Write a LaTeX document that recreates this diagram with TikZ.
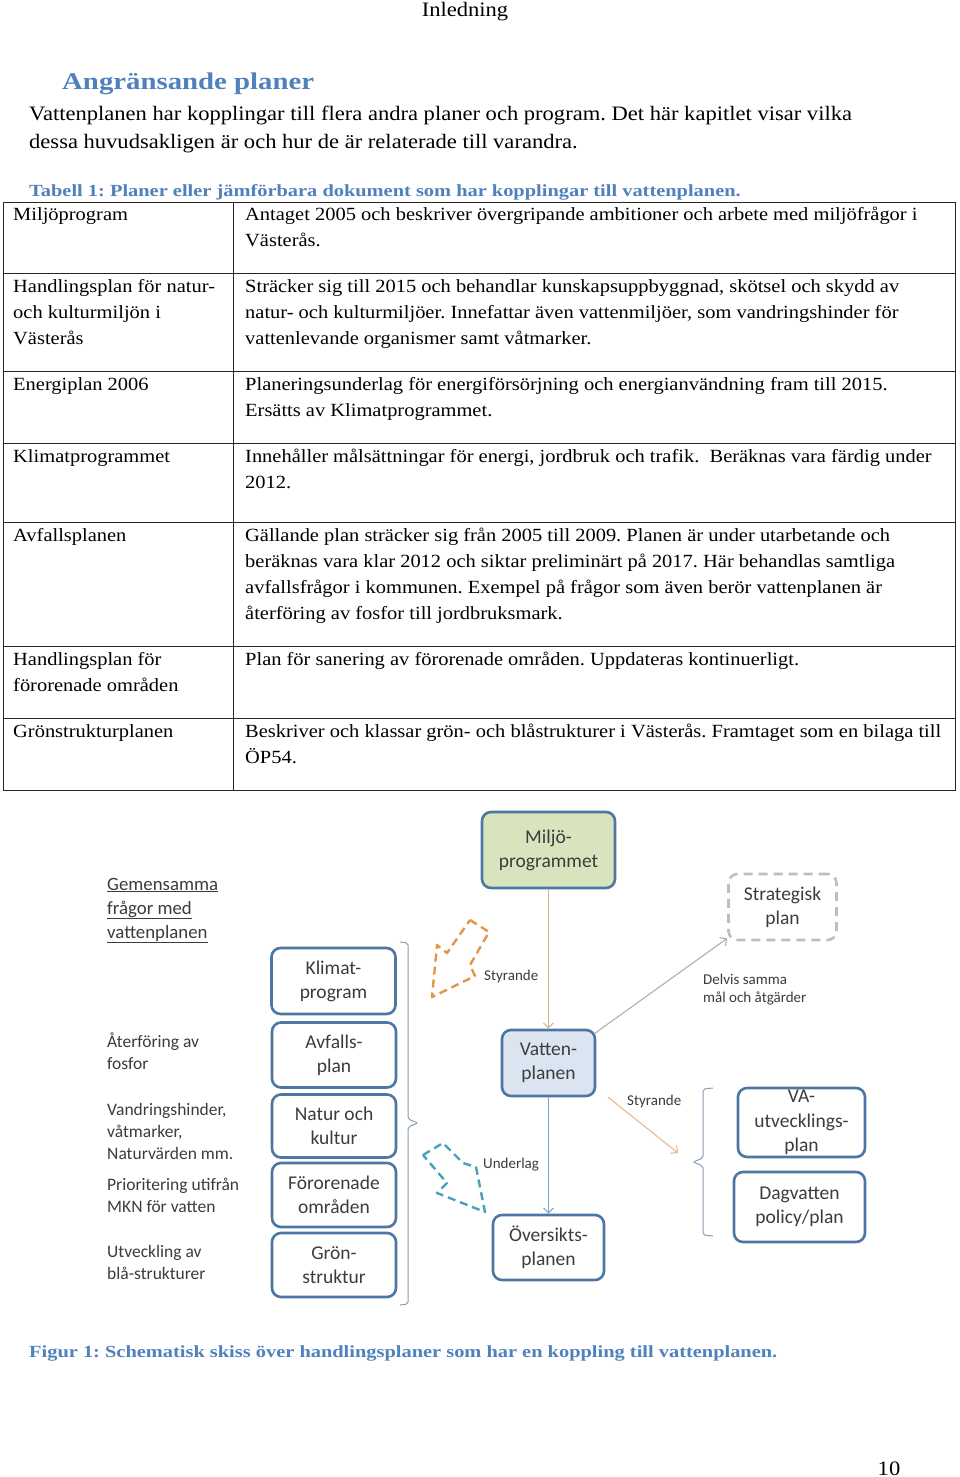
\documentclass[tikz,border=0pt]{standalone}
\usepackage{fontspec}
\setmainfont{Liberation Serif}[FakeStretch=1.1]
\newfontfamily\headf{Liberation Serif}[FakeStretch=1.2]
\newfontfamily\calf{Carlito}
\usetikzlibrary{arrows.meta}
\definecolor{headblue}{RGB}{79,129,189}
\definecolor{boxblue}{RGB}{78,118,162}
\definecolor{miljofill}{RGB}{215,228,189}
\definecolor{vattenfill}{RGB}{219,229,241}
\definecolor{dtext}{RGB}{60,60,60}
\definecolor{stratgrey}{RGB}{190,190,190}
\definecolor{arrowtan}{RGB}{212,180,140}
\definecolor{arrowtanb}{RGB}{232,185,140}
\definecolor{arrowgrey}{RGB}{175,175,175}
\definecolor{arrowblue}{RGB}{125,165,200}
\definecolor{brgrey}{RGB}{140,158,180}
\definecolor{dashorange}{RGB}{228,150,72}
\definecolor{dashteal}{RGB}{72,160,185}
\frenchspacing
\begin{document}
\begin{tikzpicture}[x=1pt,y=-1pt,
 box/.style={draw=boxblue, line width=2.6pt, rounded corners=9pt, fill=white, align=center,
   font=\calf\fontsize{19.5}{24}\selectfont, text=dtext, inner sep=0pt},
 body/.style={anchor=base west, inner sep=0pt, font=\fontsize{20.5}{26}\selectfont},
 cell/.style={anchor=base west, inner sep=0pt, font=\fontsize{18.6}{26}\selectfont},
 hd/.style={anchor=base west, inner sep=0pt, text=headblue, font=\headf\bfseries\fontsize{17}{20}\selectfont},
 lbl/.style={anchor=base west, inner sep=0pt, font=\calf\fontsize{17.5}{22}\selectfont, text=dtext},
 smalllbl/.style={anchor=base west, inner sep=0pt, font=\calf\fontsize{15}{18}\selectfont, text=dtext},
 tline/.style={line width=0.9pt, draw=black!85},
 con/.style={line width=1.1pt, -{Straight Barb[length=5pt,width=10pt]}},
 brace/.style={line width=1pt, draw=brgrey, rounded corners=2pt}
]
\useasboundingbox (0,0) rectangle (960,1477);
\fill[white] (0,0) rectangle (960,1477);

% header, heading, paragraph
\node[anchor=base, inner sep=0pt, font=\fontsize{20.5}{26}\selectfont] (hdr) at (465,17) {Inledning};
\node[hd, font=\headf\bfseries\fontsize{24}{28}\selectfont] (title) at (62,90) {Angränsande planer};
\node[body] (p1) at (29,121) {Vattenplanen har kopplingar till flera andra planer och program. Det här kapitlet visar vilka};
\node[body] (p2) at (29,149) {dessa huvudsakligen är och hur de är relaterade till varandra.};
\node[hd] (tab) at (29,196) {Tabell 1: Planer eller jämförbara dokument som har kopplingar till vattenplanen.};

% table
\draw[tline] (3,202) rectangle (955,790);
\draw[tline] (233,202) -- (233,790);
\foreach \yy in {273,371,443,522,646,718} \draw[tline] (3,\yy) -- (955,\yy);

\node[cell] (a1) at (13,220) {Miljöprogram};
\node[cell] (b1a) at (245,220) {Antaget 2005 och beskriver övergripande ambitioner och arbete med miljöfrågor i};
\node[cell] (b1b) at (245,246) {Västerås.};
\node[cell] (a2a) at (13,292) {Handlingsplan för natur-};
\node[cell] (a2b) at (13,318) {och kulturmiljön i};
\node[cell] (a2c) at (13,344) {Västerås};
\node[cell] (b2a) at (245,292) {Sträcker sig till 2015 och behandlar kunskapsuppbyggnad, skötsel och skydd av};
\node[cell] (b2b) at (245,318) {natur- och kulturmiljöer. Innefattar även vattenmiljöer, som vandringshinder för};
\node[cell] (b2c) at (245,344) {vattenlevande organismer samt våtmarker.};
\node[cell] (a3) at (13,390) {Energiplan 2006};
\node[cell] (b3a) at (245,390) {Planeringsunderlag för energiförsörjning och energianvändning fram till 2015.};
\node[cell] (b3b) at (245,416) {Ersätts av Klimatprogrammet.};
\node[cell] (a4) at (13,462) {Klimatprogrammet};
\node[cell] (b4a) at (245,462) {Innehåller målsättningar för energi, jordbruk och trafik.~ Beräknas vara färdig under};
\node[cell] (b4b) at (245,488) {2012.};
\node[cell] (a5) at (13,541) {Avfallsplanen};
\node[cell] (b5a) at (245,541) {Gällande plan sträcker sig från 2005 till 2009. Planen är under utarbetande och};
\node[cell] (b5b) at (245,567) {beräknas vara klar 2012 och siktar preliminärt på 2017. Här behandlas samtliga};
\node[cell] (b5c) at (245,593) {avfallsfrågor i kommunen. Exempel på frågor som även berör vattenplanen är};
\node[cell] (b5d) at (245,619) {återföring av fosfor till jordbruksmark.};
\node[cell] (a6a) at (13,665) {Handlingsplan för};
\node[cell] (a6b) at (13,691) {förorenade områden};
\node[cell] (b6) at (245,665) {Plan för sanering av förorenade områden. Uppdateras kontinuerligt.};
\node[cell] (a7) at (13,737) {Grönstrukturplanen};
\node[cell] (b7a) at (245,737) {Beskriver och klassar grön- och blåstrukturer i Västerås. Framtaget som en bilaga till};
\node[cell] (b7b) at (245,763) {ÖP54.};

% diagram boxes
\node[box, fill=miljofill, minimum width=133pt, minimum height=76pt] (miljo) at (548.5,850) {Miljö-\\programmet};
\node[box, draw=stratgrey, dash pattern=on 9pt off 6pt, minimum width=108pt, minimum height=66pt] (strat) at (782.5,907) {Strategisk\\plan};
\node[box, minimum width=124pt, minimum height=66pt] (klimat) at (333.5,981) {Klimat-\\program};
\node[box, minimum width=124pt, minimum height=65pt] (avfall) at (334,1055) {Avfalls-\\plan};
\node[box, minimum width=124pt, minimum height=63pt] (natur) at (334,1126) {Natur och\\kultur};
\node[box, minimum width=124pt, minimum height=64pt] (fororen) at (334,1195) {Förorenade\\områden};
\node[box, minimum width=124pt, minimum height=64pt] (gron) at (334,1265) {Grön-\\struktur};
\node[box, fill=vattenfill, minimum width=93pt, minimum height=66pt] (vatten) at (548.5,1063) {Vatten-\\planen};
\node[box, minimum width=111pt, minimum height=65pt] (oversikt) at (548.5,1247.5) {Översikts-\\planen};
\node[box, minimum width=127pt, minimum height=69pt, font=\calf\fontsize{19.5}{24.5}\selectfont] (va) at (801.5,1122.5) {VA-\\utvecklings-\\plan};
\node[box, minimum width=131pt, minimum height=70pt] (dag) at (799.5,1207) {Dagvatten\\policy/plan};

% connectors
\draw[con, draw=arrowtan] (miljo.south) -- (vatten.north);
\draw[con, draw=arrowgrey] ([xshift=-2pt,yshift=-5pt]vatten.north east) -- ([yshift=3pt]strat.south west);
\coordinate (styend) at (678,1153);
\draw[con, draw=arrowtanb] ([xshift=12pt]vatten.south east) -- (styend);
\draw[con, draw=arrowblue] (vatten.south) -- (oversikt.north);

% braces
\draw[brace] (400,942) -- (408,943) -- (408,1119) -- (418,1123) -- (408,1127) -- (408,1304) -- (400,1305);
\draw[brace] (713,1088) -- (703,1089) -- (703,1158) -- (693,1162) -- (703,1166) -- (703,1235) -- (713,1236);

% dashed block arrows
\draw[dashorange, line width=2.4pt, dash pattern=on 8pt off 5pt, line join=round]
  (470,920) -- (489,932) -- (470,965) -- (475,976) -- (432,997) -- (437,945) -- (447,953) -- cycle;
\draw[dashteal, line width=2.4pt, dash pattern=on 8pt off 5pt, line join=round]
  (423,1155) -- (443,1143) -- (463,1163) -- (476,1167) -- (485,1212) -- (437,1193) -- (447,1183) -- cycle;

% labels
\node[lbl, font=\calf\fontsize{18.8}{24}\selectfont] (g1) at (107,890) {\underline{Gemensamma}};
\node[lbl, font=\calf\fontsize{18.8}{24}\selectfont] (g2) at (107,914) {\underline{frågor med}};
\node[lbl, font=\calf\fontsize{18.8}{24}\selectfont] (g3) at (107,938) {\underline{vattenplanen}};
\node[lbl] (l1a) at (107,1047) {Återföring av};
\node[lbl] (l1b) at (107,1069) {fosfor};
\node[lbl] (l2a) at (107,1115) {Vandringshinder,};
\node[lbl] (l2b) at (107,1137) {våtmarker,};
\node[lbl] (l2c) at (107,1159) {Naturvärden mm.};
\node[lbl] (l3a) at (107,1190) {Prioritering utifrån};
\node[lbl] (l3b) at (107,1212) {MKN för vatten};
\node[lbl] (l4a) at (107,1257) {Utveckling av};
\node[lbl] (l4b) at (107,1279) {blå-strukturer};

\node[smalllbl] (s1) at (484,980) {Styrande};
\node[smalllbl] (s2a) at (703,984) {Delvis samma};
\node[smalllbl] (s2b) at (703,1002) {mål och åtgärder};
\node[smalllbl] (s3) at (627,1105) {Styrande};
\node[smalllbl] (s4) at (483,1168) {Underlag};

% caption and page number
\node[hd] (cap) at (29,1357) {Figur 1: Schematisk skiss över handlingsplaner som har en koppling till vattenplanen.};
\node[anchor=base, inner sep=0pt, font=\fontsize{20.5}{26}\selectfont] (pg) at (889,1475) {10};
\end{tikzpicture}
\end{document}
